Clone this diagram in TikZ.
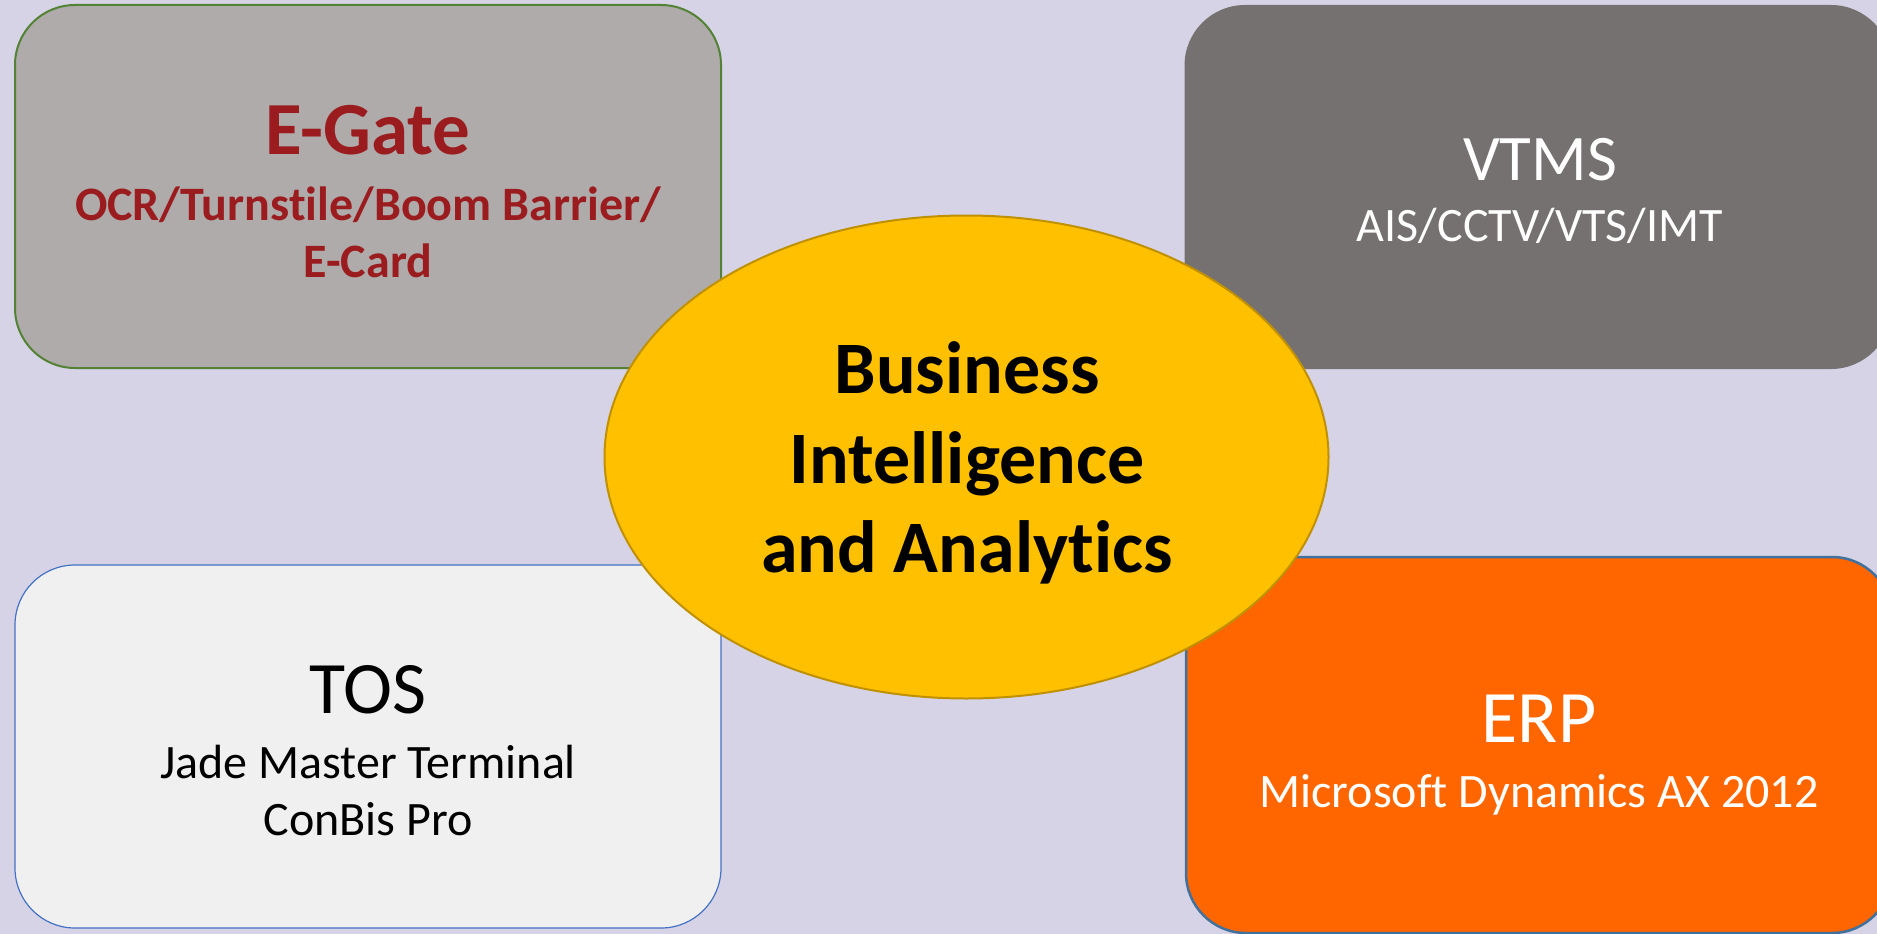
\documentclass[tikz,border=0pt]{standalone}
\usepackage{fontspec}
\setmainfont{Carlito}[Ligatures={NoCommon}]
\usetikzlibrary{shapes.geometric}
\definecolor{bgcol}{RGB}{214,211,230}
\definecolor{egfill}{RGB}{175,171,171}
\definecolor{egline}{RGB}{84,130,53}
\definecolor{egtext}{RGB}{155,28,30}
\definecolor{vtfill}{RGB}{118,113,113}
\definecolor{tosfill}{RGB}{240,240,240}
\definecolor{tosline}{RGB}{68,114,196}
\definecolor{erpfill}{RGB}{255,102,0}
\definecolor{erpline}{RGB}{65,113,156}
\definecolor{ellfill}{RGB}{255,192,0}
\definecolor{ellline}{RGB}{191,144,0}
\tikzset{
  sysbox/.style={rectangle, rounded corners=60pt, inner sep=0pt, minimum width=706pt, minimum height=363pt},
  titletxt/.style={anchor=base, inner sep=0pt, font=\fontsize{74}{88}\selectfont},
  subtxt/.style={anchor=base, inner sep=0pt, font=\fontsize{48}{58}\selectfont},
  bitxt/.style={anchor=base, inner sep=0pt, font=\bfseries\fontsize{74}{90}\selectfont},
}
\begin{document}
\begin{tikzpicture}[x=1pt,y=-1pt]
\fill[bgcol] (0,0) rectangle (1877,934);
\useasboundingbox (0,0) rectangle (1877,934);
\clip (0,0) rectangle (1877,934);
% boxes
\node[sysbox, fill=egfill, draw=egline, line width=2pt] (egate) at (368,186.5) {};
\node[sysbox, fill=vtfill, draw=vtfill, line width=1pt] (vtms) at (1538,187) {};
\node[sysbox, fill=tosfill, draw=tosline, line width=1.2pt] (tos) at (368,746.5) {};
\node[sysbox, fill=erpfill, draw=erpline, line width=2.5pt, minimum height=376pt] (erp) at (1539,745) {};
% box texts
\node[titletxt, font=\bfseries\fontsize{75}{88}\selectfont, text=egtext] (egt1) at (368,154) {E-Gate};
\node[subtxt, font=\bfseries\fontsize{48}{58}\selectfont, text=egtext] (egt2) at (368,220) {OCR/Turnstile/Boom Barrier/};
\node[subtxt, font=\bfseries\fontsize{48}{58}\selectfont, text=egtext] (egt3) at (368,277) {E-Card};
\node[titletxt, font=\fontsize{65}{80}\selectfont, text=white] (vt1) at (1540,180) {VTMS};
\node[subtxt, text=white] (vt2) at (1540,241) {AIS/CCTV/VTS/IMT};
\node[titletxt, text=black] (tos1) at (368,713) {TOS};
\node[subtxt, text=black] (tos2) at (368,778) {Jade Master Terminal};
\node[subtxt, text=black] (tos3) at (368,835) {ConBis Pro};
\node[titletxt, text=white] (erp1) at (1539,742) {ERP};
\node[subtxt, text=white] (erp2) at (1539,807) {Microsoft Dynamics AX 2012};
% centre ellipse
\node[ellipse, fill=ellfill, draw=ellline, line width=2pt, inner sep=0pt, minimum width=724pt, minimum height=483pt] (bi) at (966.5,457) {};
\node[bitxt] (bi1) at (967,393) {Business};
\node[bitxt] (bi2) at (967,483) {Intelligence};
\node[bitxt] (bi3) at (967,572) {and Analytics};
\end{tikzpicture}
\end{document}
